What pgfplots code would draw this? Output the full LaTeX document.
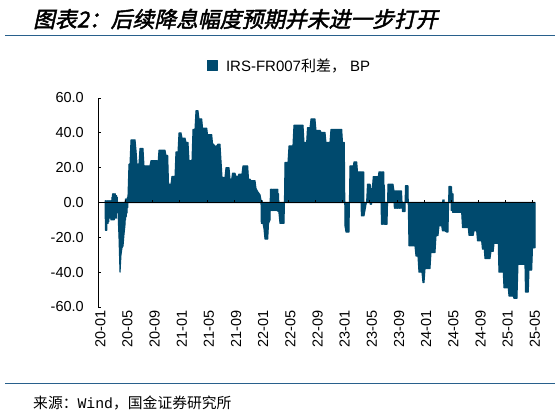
\documentclass[border=0pt]{standalone}
\usepackage{fontspec}
\usepackage{pgfplots}
\pgfplotsset{compat=1.18}
\setmainfont{Liberation Sans}
\newfontfamily\cjk{Noto Sans CJK SC}
\newfontfamily\cjktitle[FakeSlant=0.22,FakeBold=2]{Noto Sans CJK SC}
\newfontfamily\monofont{Liberation Mono}
\definecolor{barblue}{RGB}{0,74,110}
\definecolor{lineblue}{RGB}{40,96,140}
\begin{document}
\begin{tikzpicture}[x=1pt,y=1pt]
\path (0,0) rectangle (559,416);
\node[anchor=west,inner sep=0pt] at (33,397) {\cjktitle\fontsize{21.8pt}{24pt}\selectfont 图表2：后续降息幅度预期并未进一步打开};
\draw[lineblue,line width=1.5pt] (5,380.3) -- (555,380.3);
\draw[lineblue,line width=1.5pt] (5,32.7) -- (555,32.7);
\node[anchor=west,inner sep=0pt] at (33,13.3) {\fontsize{14.8pt}{16pt}\selectfont\cjk 来源：{\monofont Wind}，国金证券研究所};
\begin{axis}[
  at={(98.3pt,109pt)}, anchor=south west,
  width=436.7pt, height=209pt, scale only axis,
  xmin=0, xmax=64.32, ymin=-60, ymax=60,
  axis y line=left, axis x line=bottom,
  axis line style={-, black, line width=1pt},
  x axis line style={draw=none},
  xtick={0,4,...,64},
  xticklabels={20-01,20-05,20-09,21-01,21-05,21-09,22-01,22-05,22-09,23-01,23-05,23-09,24-01,24-05,24-09,25-01,25-05},
  xtick style={draw=none},
  xticklabel style={rotate=90, anchor=east, font=\fontsize{14.5pt}{16pt}\selectfont, yshift=-2pt},
  ytick={-60,-40,...,60},
  ytick style={black, line width=0.8pt},
  tick align=inside, major tick length=3pt,
  yticklabel={\pgfmathprintnumber[fixed,fixed zerofill,precision=1]{\tick}},
  yticklabel style={font=\fontsize{14.5pt}{16pt}\selectfont, xshift=-11pt},
  /pgf/number format/assume math mode=true,
  clip=false,
  legend style={at={(0.438,1.1555)}, anchor=center, draw=none, fill=none,
    font=\fontsize{15pt}{17pt}\selectfont, inner sep=0pt},
  legend image code/.code={\fill[barblue] (0pt,-5pt) rectangle (10pt,5pt); \path (16pt,0pt);},
]
\addplot[fill=barblue, draw=barblue, line width=1.1pt, line join=round] table {
x y
1.00 1
1.05 -16
1.10 1
1.15 -16
1.20 1
1.25 -16
1.30 1
1.35 -12
1.40 1
1.45 -12
1.50 1
1.55 -11
1.60 1
1.65 -9
1.70 1
1.75 -9
1.80 1
1.85 -10
1.90 1
1.95 -10
2.00 3
2.05 -10
2.10 5
2.15 -10
2.20 5
2.25 -10
2.30 5
2.35 -10
2.40 5
2.45 -9
2.50 5
2.55 -9
2.60 4
2.65 -9
2.70 4
2.75 -6
2.80 3
2.85 -5
2.90 -5
3.05 -20
3.20 -40
3.34 -30
3.49 -26
3.64 -25
3.79 -18
3.93 -13
3.98 2
4.03 -10
4.08 2
4.13 -8
4.18 2
4.23 -6
4.28 3
4.33 -3
4.37 3
4.52 22
4.67 22
4.82 36
5.11 36
5.41 36
5.55 30
5.70 22
5.99 22
6.14 31
6.58 31
6.73 21
7.61 21
7.76 24
8.65 24
8.79 22
8.94 30
9.82 30
9.97 27
10.22 27
10.34 10.5
10.71 10.5
10.85 15
11.30 15
11.44 29
11.74 29
11.89 40
12.18 40
12.33 37
12.77 37
12.92 34.5
13.21 34.5
13.36 24
13.80 24
13.95 42
14.24 42
14.39 52.7
14.68 52.7
14.83 48
15.23 48
15.35 42.7
15.97 42.7
16.08 39
16.70 39
16.82 34
17.33 32
17.63 33.5
17.92 33.5
18.07 24
18.22 14.4
18.66 14.4
18.81 20
19.25 20
19.40 13.4
19.65 13.4
19.76 16.8
20.13 16.8
20.28 15
20.57 15
20.72 16.3
21.16 16.3
21.31 21
22.00 21
22.12 13.4
22.34 13.4
22.49 12.5
23.08 12.5
23.23 8
23.52 6
23.82 4.4
23.96 1.5
24.01 -12
24.06 1
24.11 -12
24.16 1
24.21 -12
24.26 -12
24.40 -15
24.55 -21
24.95 -21
25.07 -12
25.29 -10
25.35 7.6
25.40 -4.6
25.45 7.6
25.50 -4.6
25.55 7.6
25.60 -4.6
25.65 7.6
25.70 -4.6
25.75 7.6
25.80 -4.6
25.85 7.6
25.90 -4.6
25.95 7.6
26.00 -4.6
26.05 7.6
26.10 -4.6
26.15 7.6
26.20 -4.6
26.25 7.6
26.30 -4.6
26.35 7.6
26.40 -5
26.45 7.6
26.50 -5
26.55 5
26.61 -6
26.76 -12
27.35 -12
27.42 1
27.50 23
27.94 23
28.09 32.5
28.67 32.5
28.82 44.4
30.15 44.4
30.29 34.5
30.69 34.5
30.81 43
31.18 43
31.33 48
31.91 48
32.06 41.4
32.65 41.4
32.80 40.2
33.39 40.2
33.53 34.5
34.12 34.5
34.27 42
35.85 42
35.96 34.5
36.23 34.5
36.33 -13.4
36.48 -17
36.92 -17
37.07 21
37.56 21
37.66 23.3
38.06 23.3
38.17 17.6
38.69 17.6
38.74 -7.7
38.79 17.6
38.84 -7.7
38.89 17.6
38.94 -7.7
38.99 17.6
39.04 -7.7
39.09 17.6
39.13 -7.7
39.53 1
39.65 10.5
40.01 10.5
40.06 -1
40.11 10
40.16 -1
40.21 8
40.26 -1
40.31 5
40.50 14.9
41.24 14.9
41.34 17.6
41.64 17.6
41.69 -12.5
41.74 17.6
41.79 -12.5
41.84 17.6
41.89 -12.5
41.94 17.6
41.99 -12.5
42.04 17.6
42.09 -12.5
42.14 10
42.19 -12.5
42.52 -12.5
42.67 10.5
43.40 10.5
43.55 6.7
43.60 -3.3
43.65 6.7
43.70 -3.3
43.75 6.7
43.80 -3.3
43.85 6.7
43.90 -3.3
43.95 6.7
44.00 -3.3
44.05 6.7
44.10 -3.3
44.15 6.7
44.20 -3.3
44.25 6.7
44.30 -3.3
44.35 6.7
44.40 -3.3
44.45 6.7
44.50 -3.3
44.55 6.7
44.60 -3.3
44.65 6.7
44.80 -5.2
45.17 -5.2
45.24 9.6
45.61 9.6
45.76 -24.9
46.64 -24.9
46.79 -30.7
47.08 -30.7
47.23 -40
47.67 -40
47.82 -46
47.97 -46
48.12 -38
48.85 -38
49.00 -28.7
49.59 -28.7
49.74 -19
50.03 -19
50.18 -13.4
50.58 -13.4
50.69 -16.3
50.74 1.5
50.79 -16.3
50.84 1.5
50.89 -16.3
50.94 1.5
50.99 -16.3
51.06 -16.3
51.31 -17
51.50 -17
51.65 9.2
51.94 9.2
51.99 -4.6
52.04 9
52.09 -4.6
52.14 5
52.19 -5.7
52.24 5
52.29 -5.7
52.39 -5.7
53.52 -5.7
53.64 -14.4
54.49 -14.4
54.60 -18.8
55.23 -18.8
55.33 -16.3
55.73 -16.3
55.85 -22
56.46 -22
56.58 -26.8
56.85 -26.8
56.95 -32.2
57.69 -32.2
57.84 -28
58.17 -28
58.28 -23.4
58.91 -23.4
59.01 -40
59.65 -40
59.75 -49
60.38 -49
60.49 -53.7
61.12 -53.7
61.22 -55
61.66 -55
61.81 -35.5
62.84 -35.5
62.92 -51.4
63.33 -51.4
63.43 -38.8
63.83 -38.8
63.95 -26
64.32 -26
} \closedcycle;
\addlegendentry{IRS-FR007{\cjk 利差，} BP}
\draw[black, line width=1.5pt] (axis cs:0,0) -- (axis cs:64.32,0);
\pgfplotsinvokeforeach{4,8,...,64}{\draw[black, line width=0.8pt] (axis cs:#1,0) -- ++(0pt,3pt);}
\end{axis}
\end{tikzpicture}
\end{document}
